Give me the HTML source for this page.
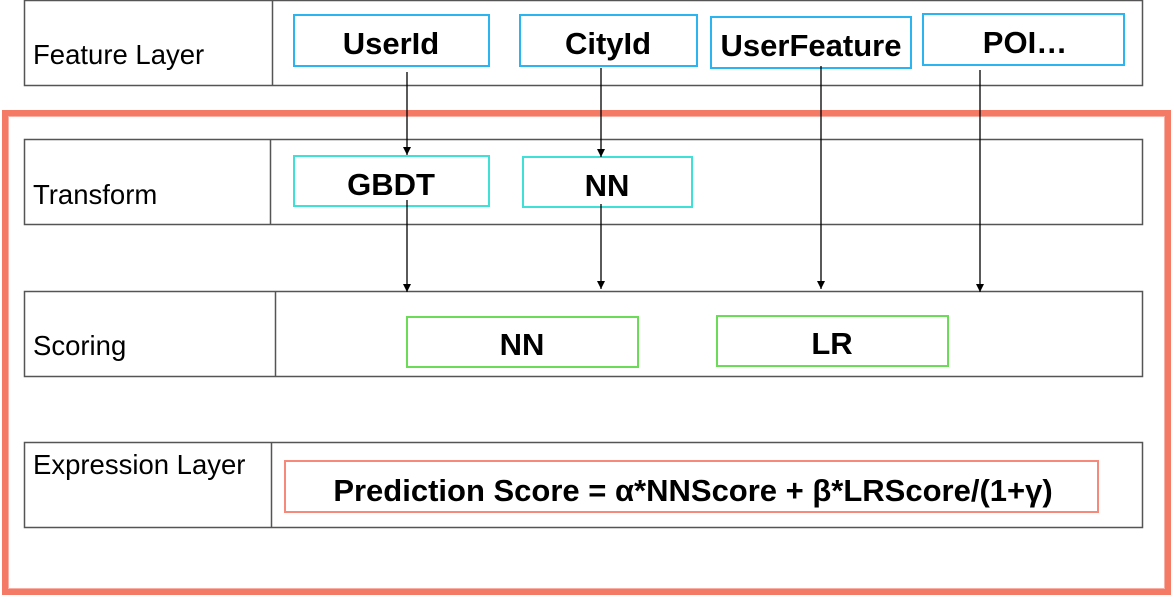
<!DOCTYPE html>
<html><head><style>
html,body{margin:0;padding:0;background:#fff;}
svg text{font-family:"Liberation Sans",Arial,sans-serif;}
</style></head><body>
<svg width="1174" height="598" viewBox="0 0 1174 598" xmlns="http://www.w3.org/2000/svg">
<defs><marker id="a" markerWidth="8" markerHeight="8" refX="8" refY="4" orient="auto" markerUnits="userSpaceOnUse"><path d="M0,0 L8,4 L0,8 Z" fill="#000"/></marker></defs>
<rect x="5" y="113" width="1163" height="479" fill="none" stroke="#f47a66" stroke-width="6"/>
<rect x="8.5" y="116.5" width="1156" height="472" fill="none" stroke="#f9b0a4" stroke-width="1"/>
<g fill="none" stroke="#555" stroke-width="1.5">
<rect x="24.5" y="0.5" width="1118" height="85"/><line x1="272.5" y1="0" x2="272.5" y2="85"/>
<rect x="24.5" y="139.5" width="1118" height="85"/><line x1="270.5" y1="139" x2="270.5" y2="224"/>
<rect x="24.5" y="291.5" width="1118" height="85"/><line x1="275.5" y1="291" x2="275.5" y2="376"/>
<rect x="24.5" y="442.5" width="1118" height="85"/><line x1="271.5" y1="442" x2="271.5" y2="527"/>
</g>
<g fill="#fff" stroke-width="2">
<rect x="294" y="15" width="195" height="51" stroke="#2ab4f0"/>
<rect x="520" y="15" width="177" height="51" stroke="#2ab4f0"/>
<rect x="711" y="17" width="200" height="51" stroke="#2ab4f0"/>
<rect x="923" y="14" width="201" height="51" stroke="#2ab4f0"/>
<rect x="294" y="156" width="195" height="50" stroke="#3ee0d8"/>
<rect x="523" y="157" width="169" height="50" stroke="#3ee0d8"/>
<rect x="407" y="317" width="231" height="50" stroke="#6cdc58"/>
<rect x="717" y="316" width="231" height="50" stroke="#6cdc58"/>
<rect x="285" y="461" width="813" height="51" stroke="#f7897a"/>
</g>
<g stroke="#000" stroke-width="1.3" marker-end="url(#a)">
<line x1="407" y1="72" x2="407" y2="155"/>
<line x1="601" y1="68" x2="601" y2="157"/>
<line x1="407" y1="200" x2="407" y2="292"/>
<line x1="601" y1="204" x2="601" y2="289"/>
<line x1="821" y1="66" x2="821" y2="289"/>
<line x1="980" y1="70" x2="980" y2="292"/>
</g>
<g font-size="27.5" fill="#000">
<text x="33" y="64">Feature Layer</text>
<text x="33" y="204">Transform</text>
<text x="33" y="355">Scoring</text>
<text x="33" y="474">Expression Layer</text>
</g>
<g font-size="31" font-weight="bold" text-anchor="middle" fill="#000">
<text x="391" y="54">UserId</text>
<text x="608" y="54">CityId</text>
<text x="811" y="56">UserFeature</text>
<text x="1025" y="53">POI…</text>
<text x="391" y="195">GBDT</text>
<text x="607" y="196">NN</text>
<text x="522" y="355">NN</text>
<text x="832" y="354">LR</text>
<text x="693" y="501">Prediction Score = α*NNScore + β*LRScore/(1+γ)</text>
</g>
</svg>
</body></html>
